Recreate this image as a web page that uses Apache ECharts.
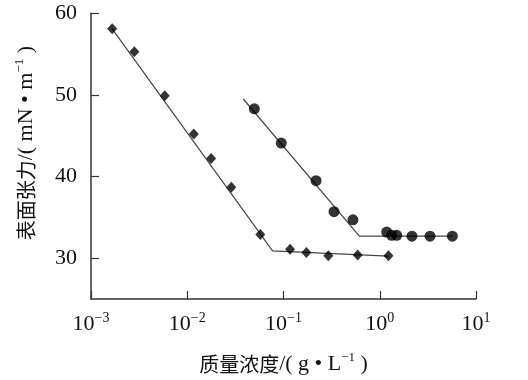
<!DOCTYPE html>
<html><head><meta charset="utf-8">
<script src="https://cdn.jsdelivr.net/npm/echarts@6/dist/echarts.min.js"></script>
<style>html,body{margin:0;padding:0;background:#fff}#c{width:528px;height:380px}</style>
</head><body><div id="c"></div>
<script>
// Series A (diamonds)
const concA = [0.00166, 0.00282, 0.00584, 0.0117, 0.0177, 0.0287, 0.0574, 0.117, 0.173, 0.292, 0.59, 1.23];
const tensionA = [58.1, 55.3, 49.9, 45.2, 42.2, 38.7, 32.9, 31.1, 30.7, 30.3, 30.4, 30.3];
// Series B (circles)
const concB = [0.0498, 0.0948, 0.218, 0.335, 0.527, 1.18, 1.33, 1.50, 2.16, 3.33, 5.68];
const tensionB = [48.3, 44.1, 39.5, 35.7, 34.7, 33.2, 32.8, 32.8, 32.7, 32.7, 32.7];
// Fitted lines
const fitAx = [0.00166, 0.077, 1.23];
const fitAy = [58.1, 30.9, 30.25];
const fitBx = [0.0382, 0.614, 5.68];
const fitBy = [49.5, 32.7, 32.7];
// Ticks
const yTicks = [30, 40, 50, 60];
const xNameCjk = '质量浓度';
const xNameUnit = ['/( g • L', '−1', ' )'];
const yNameCjk = '表面张力';
const yNameUnit = ['/( mN • m', '−1', ' )'];

const zip = (xs, ys) => xs.map((x, i) => [x, ys[i]]);
const serif = '"Liberation Serif", "Noto Sans CJK SC", serif';
const cjk = '"Noto Sans CJK SC", sans-serif';
const ink = '#111';
const nameRich = {
  c: { fontFamily: cjk, fontSize: 20, color: ink, lineHeight: 26 },
  a: { fontFamily: serif, fontSize: 22, color: ink, lineHeight: 26 },
  e: { fontFamily: serif, fontSize: 13, color: ink, verticalAlign: 'top', lineHeight: 15 }
};
const buildName = (c, u) => '{c|' + c + '}{a|' + u[0] + '}{e|' + u[1] + '}{a|' + u[2] + '}';

const chart = echarts.init(document.getElementById('c'));
chart.setOption({
  backgroundColor: '#fff',
  animation: false,
  grid: { left: 91, right: 52, top: 13.3, bottom: 78, containLabel: false },
  xAxis: {
    type: 'log', logBase: 10, min: 0.001, max: 10,
    name: buildName(xNameCjk, xNameUnit),
    nameLocation: 'middle', nameGap: 52,
    nameTextStyle: { rich: nameRich },
    axisLine: { lineStyle: { color: '#333', width: 1.5 } },
    axisTick: { inside: true, length: 8, lineStyle: { color: '#333', width: 1.2 } },
    splitLine: { show: false },
    minorTick: { show: false },
    axisLabel: {
      margin: 12,
      formatter: v => {
        const e = Math.round(Math.log10(v));
        return '{b|10}{e|' + String(e).replace('-', '−') + '}';
      },
      rich: {
        b: { fontFamily: serif, fontSize: 22, color: ink, lineHeight: 26 },
        e: { fontFamily: serif, fontSize: 14, color: ink, verticalAlign: 'top', lineHeight: 16 }
      }
    }
  },
  yAxis: {
    type: 'value', min: 25, max: 60,
    name: buildName(yNameCjk, yNameUnit),
    nameLocation: 'middle', nameGap: 52, nameRotate: 90,
    nameTextStyle: { rich: nameRich, padding: [0, 0, 0, 26] },
    axisLine: { show: true, lineStyle: { color: '#333', width: 1.5 } },
    axisTick: { show: true, inside: true, length: 8, customValues: yTicks, lineStyle: { color: '#333', width: 1.2 } },
    splitLine: { show: false },
    axisLabel: { customValues: yTicks, margin: 14, fontFamily: serif, fontSize: 22, color: ink }
  },
  series: [
    { type: 'line', data: zip(fitAx, fitAy), showSymbol: false, symbol: 'none', lineStyle: { color: '#444', width: 1.2 }, z: 1 },
    { type: 'line', data: zip(fitBx, fitBy), showSymbol: false, symbol: 'none', lineStyle: { color: '#444', width: 1.2 }, z: 1 },
    { type: 'scatter', data: zip(concA, tensionA), symbol: 'diamond', symbolSize: [10, 11], itemStyle: { color: '#000' }, z: 3 },
    { type: 'scatter', data: zip(concB, tensionB), symbol: 'circle', symbolSize: 11, itemStyle: { color: '#000' }, z: 3 }
  ]
});
</script></body></html>
